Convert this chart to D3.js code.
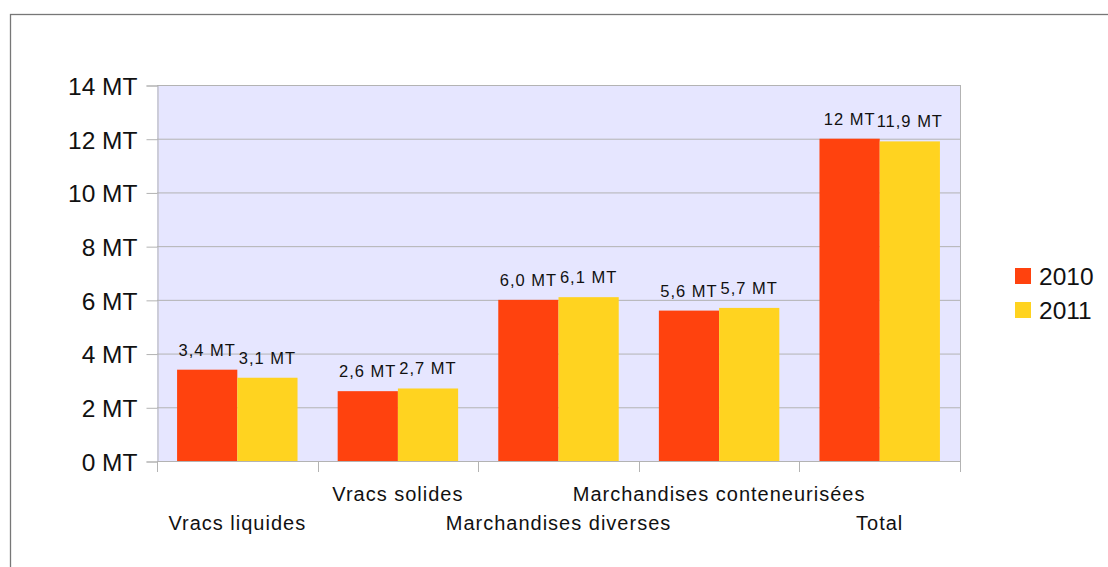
<!DOCTYPE html>
<html><head><meta charset="utf-8">
<script src="https://cdn.jsdelivr.net/npm/d3@7"></script>
<style>
html,body{margin:0;padding:0;background:#fff;}
svg{display:block;font-family:"Liberation Sans",Arial,sans-serif;}
</style></head>
<body>
<svg id="chart" width="1108" height="567"></svg>
<script>
const categories = ["Vracs liquides","Vracs solides","Marchandises diverses","Marchandises conteneurisées","Total"];
const seriesNames = ["2010","2011"];
const values2010 = [3.4, 2.6, 6.0, 5.6, 12];
const values2011 = [3.1, 2.7, 6.1, 5.7, 11.9];
const labels2010 = ["3,4 MT","2,6 MT","6,0 MT","5,6 MT","12 MT"];
const labels2011 = ["3,1 MT","2,7 MT","6,1 MT","5,7 MT","11,9 MT"];
const yTicks = [0,2,4,6,8,10,12,14];
const colors = ["#ff420e","#ffd320"];

const svg = d3.select("#chart");
// outer frame
svg.append("rect").attr("x",10.5).attr("y",14.5).attr("width",1200).attr("height",600)
  .attr("fill","none").attr("stroke","#777").attr("stroke-width",1.3);

const L=157, R=960, T=85, B=461;
const x = d3.scaleBand().domain(categories).range([L,R]).padding(0);
const y = d3.scaleLinear().domain([0,14]).range([B,T]);

svg.append("rect").attr("x",L).attr("y",T).attr("width",R-L).attr("height",B-T).attr("fill","#e6e6ff");

// grid
svg.append("g").selectAll("line").data(yTicks).join("line")
  .attr("x1",L).attr("x2",R).attr("y1",d=>y(d)+0.5).attr("y2",d=>y(d)+0.5)
  .attr("stroke","#b3b3b3").attr("stroke-width",1);
svg.append("line").attr("x1",R+0.5).attr("x2",R+0.5).attr("y1",T).attr("y2",B).attr("stroke","#b3b3b3");

// bars
const bw = x.bandwidth();
const series = [values2010, values2011];
const labs = [labels2010, labels2011];
series.forEach((vals,si)=>{
  const g = svg.append("g");
  g.selectAll("rect").data(categories).join("rect")
    .attr("x",(c)=>x(c)+bw*0.125+si*bw*0.375)
    .attr("width",bw*0.375)
    .attr("y",(c,i)=>y(vals[i]))
    .attr("height",(c,i)=>y(0)-y(vals[i]))
    .attr("fill",colors[si]);
  g.selectAll("text").data(categories).join("text")
    .attr("x",(c)=>x(c)+bw*0.125+si*bw*0.375+bw*0.1875)
    .attr("y",(c,i)=>y(vals[i])-14)
    .attr("text-anchor","middle")
    .attr("font-size",16.5).attr("letter-spacing",1)
    .attr("fill","#111")
    .text((c,i)=>labs[si][i]);
});

// y axis
const yAxis = d3.axisLeft(y).tickValues(yTicks).tickSize(11).tickPadding(9).tickFormat(d=>d+" MT");
const ya = svg.append("g").attr("transform",`translate(${L+0.5},0.5)`).call(yAxis);
ya.select(".domain").attr("stroke","#b3b3b3");
ya.selectAll(".tick line").attr("stroke","#b3b3b3");
ya.selectAll(".tick text").attr("font-size",24.5).attr("font-family","Liberation Sans, Arial, sans-serif").attr("fill","#111").attr("dy","0.36em");

// x axis: ticks at category boundaries
const bounds = categories.map(c=>x(c)).concat([R]);
svg.append("line").attr("x1",L).attr("x2",R).attr("y1",B+0.5).attr("y2",B+0.5).attr("stroke","#b3b3b3");
svg.append("g").selectAll("line").data(bounds).join("line")
  .attr("x1",d=>Math.round(d)+0.5).attr("x2",d=>Math.round(d)+0.5).attr("y1",B).attr("y2",B+11)
  .attr("stroke","#b3b3b3");
svg.append("g").selectAll("text").data(categories).join("text")
  .attr("x",c=>x(c)+bw/2)
  .attr("y",(c,i)=> i%2===0 ? 530 : 501)
  .attr("text-anchor","middle")
  .attr("font-size",20).attr("letter-spacing",1)
  .attr("fill","#111")
  .text(c=>c);

// legend
const lg = svg.append("g");
seriesNames.forEach((n,i)=>{
  lg.append("rect").attr("x",1015).attr("y",268+i*34).attr("width",16).attr("height",16).attr("fill",colors[i]);
  lg.append("text").attr("x",1039).attr("y",285+i*34).attr("font-size",24.5).attr("fill","#111").text(n);
});
</script>
</body></html>
